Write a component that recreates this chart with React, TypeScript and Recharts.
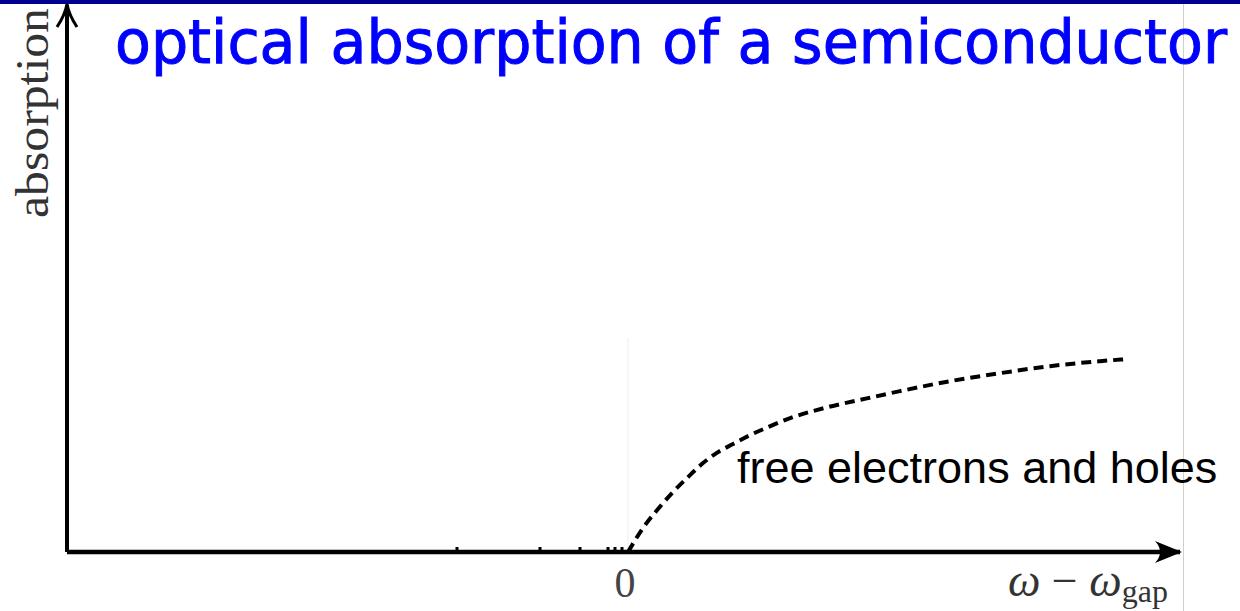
import React from "react";
import {
  ComposedChart, Line, Scatter, XAxis, YAxis, ReferenceDot, ReferenceLine
} from "recharts";

// photon energy relative to the gap (arb. units), absorption (arb. units)
const energy = [0, 0.15, 0.3, 0.45, 0.6, 0.75, 0.9, 1.05, 1.2, 1.4, 1.65, 2.0, 2.4, 2.72, 3.22, 3.72, 4.22, 4.72, 4.98];
const absorption = [0, 0.24, 0.43, 0.6, 0.75, 0.89, 1.0, 1.08, 1.16, 1.25, 1.35, 1.45, 1.54, 1.61, 1.71, 1.79, 1.86, 1.91, 1.93];
// leftover dash fragments poking above the axis below the gap
const belowGap = [-1.71, -0.88, -0.48, -0.2, -0.13, -0.06];
const xTicks = [0];

const curve = energy.map((x, i) => ({ x, y: absorption[i] }));
const stubs = belowGap.map((x) => ({ x, y: 0 }));

const X_MIN = -5.61;
const X_MAX = 5.52;
const Y_MAX = 5.475;

const serif = "'Liberation Serif', 'DejaVu Serif', serif";

export default function App() {
  return (
    <div style={{ position: "absolute", left: 0, top: 0, width: 1240, height: 611, background: "#fff" }}>
      <svg width={1240} height={611} style={{ position: "absolute", left: 0, top: 0 }}>
        <rect x={0} y={0} width={1240} height={4} fill="#000090" />
        <line x1={1183.5} y1={4} x2={1183.5} y2={611} stroke="#cfcfcf" strokeWidth={1} />
      </svg>
      <div style={{ position: "absolute", left: 0, top: 0 }}>
        <ComposedChart width={1240} height={611} margin={{ top: 5, right: 60, bottom: 59, left: 67 }}>
          <XAxis dataKey="x" type="number" domain={[X_MIN, X_MAX]} allowDataOverflow hide />
          <YAxis type="number" domain={[0, Y_MAX]} allowDataOverflow hide />
          <ReferenceLine
            segment={[{ x: 0, y: 0 }, { x: 0, y: 2.14 }]}
            stroke="#eeeeee"
            strokeWidth={1}
          />
          <Scatter
            data={stubs}
            dataKey="y"
            isAnimationActive={false}
            shape={(p: any) => <rect x={p.cx - 1.5} y={p.cy - 5} width={3} height={4} fill="#000" />}
          />
          <Line
            data={curve}
            dataKey="y"
            type="monotone"
            stroke="#000"
            strokeWidth={4}
            strokeDasharray="10 6"
            dot={false}
            isAnimationActive={false}
          />
          {/* axes */}
          <ReferenceLine
            segment={[{ x: X_MIN, y: 0 }, { x: X_MAX, y: 0 }]}
            ifOverflow="visible"
            stroke="#000"
            strokeWidth={4.5}
          />
          <ReferenceLine
            segment={[{ x: X_MIN, y: 0 }, { x: X_MIN, y: Y_MAX }]}
            ifOverflow="visible"
            stroke="#000"
            strokeWidth={4}
          />
          <ReferenceDot
            x={X_MIN}
            y={Y_MAX}
            ifOverflow="visible"
            shape={(p: any) => (
              <path
                d={`M${p.cx - 10},${p.cy + 22} Q${p.cx - 2},${p.cy + 10} ${p.cx},${p.cy - 1} Q${p.cx + 2},${p.cy + 10} ${p.cx + 10},${p.cy + 22}`}
                stroke="#000"
                strokeWidth={3}
                fill="none"
              />
            )}
          />
          <ReferenceDot
            x={X_MAX}
            y={0}
            ifOverflow="visible"
            shape={(p: any) => (
              <path
                d={`M${p.cx + 2},${p.cy} L${p.cx - 25},${p.cy - 11} Q${p.cx - 15},${p.cy} ${p.cx - 25},${p.cy + 11} Z`}
                fill="#000"
              />
            )}
          />
          {/* tick label */}
          {xTicks.map((t) => (
            <ReferenceDot
              key={t}
              x={t}
              y={0}
              ifOverflow="visible"
              shape={(p: any) => (
                <text x={p.cx - 3} y={p.cy + 45} textAnchor="middle" fontFamily={serif} fontSize={42} fill="#444">
                  {t}
                </text>
              )}
            />
          ))}
          {/* axis titles */}
          <ReferenceDot
            x={X_MIN}
            y={Y_MAX}
            ifOverflow="visible"
            shape={(p: any) => (
              <text
                x={p.cx - 19}
                y={p.cy + 108}
                transform={`rotate(-90 ${p.cx - 19} ${p.cy + 108})`}
                textAnchor="middle"
                fontFamily={serif}
                fontSize={46}
                fill="#333"
                textLength={210}
                lengthAdjust="spacingAndGlyphs"
              >
                absorption
              </text>
            )}
          />
          <ReferenceDot
            x={X_MAX}
            y={0}
            ifOverflow="visible"
            shape={(p: any) => (
              <text x={p.cx - 12} y={p.cy + 44} textAnchor="end" fontFamily={serif} fontSize={46} fill="#333">
                <tspan fontStyle="italic">ω</tspan>
                <tspan> − </tspan>
                <tspan fontStyle="italic">ω</tspan>
                <tspan fontSize={32} dy={6}>gap</tspan>
              </text>
            )}
          />
          <ReferenceDot
            x={1.09}
            y={0.69}
            ifOverflow="visible"
            shape={(p: any) => (
              <text x={p.cx} y={p.cy} fontFamily="'Liberation Sans', Arial, sans-serif" fontSize={45} fill="#000">
                free electrons and holes
              </text>
            )}
          />
        </ComposedChart>
      </div>
      <svg width={1240} height={611} style={{ position: "absolute", left: 0, top: 0, pointerEvents: "none" }}>
        <text
          x={115}
          y={63}
          fontFamily="'Comic Sans MS', 'DejaVu Sans', sans-serif"
          fontSize={60}
          fill="#0000ff"
          stroke="#0000ff"
          strokeWidth={1}
          textLength={1112}
          lengthAdjust="spacingAndGlyphs"
        >
          optical absorption of a semiconductor
        </text>
      </svg>
    </div>
  );
}
